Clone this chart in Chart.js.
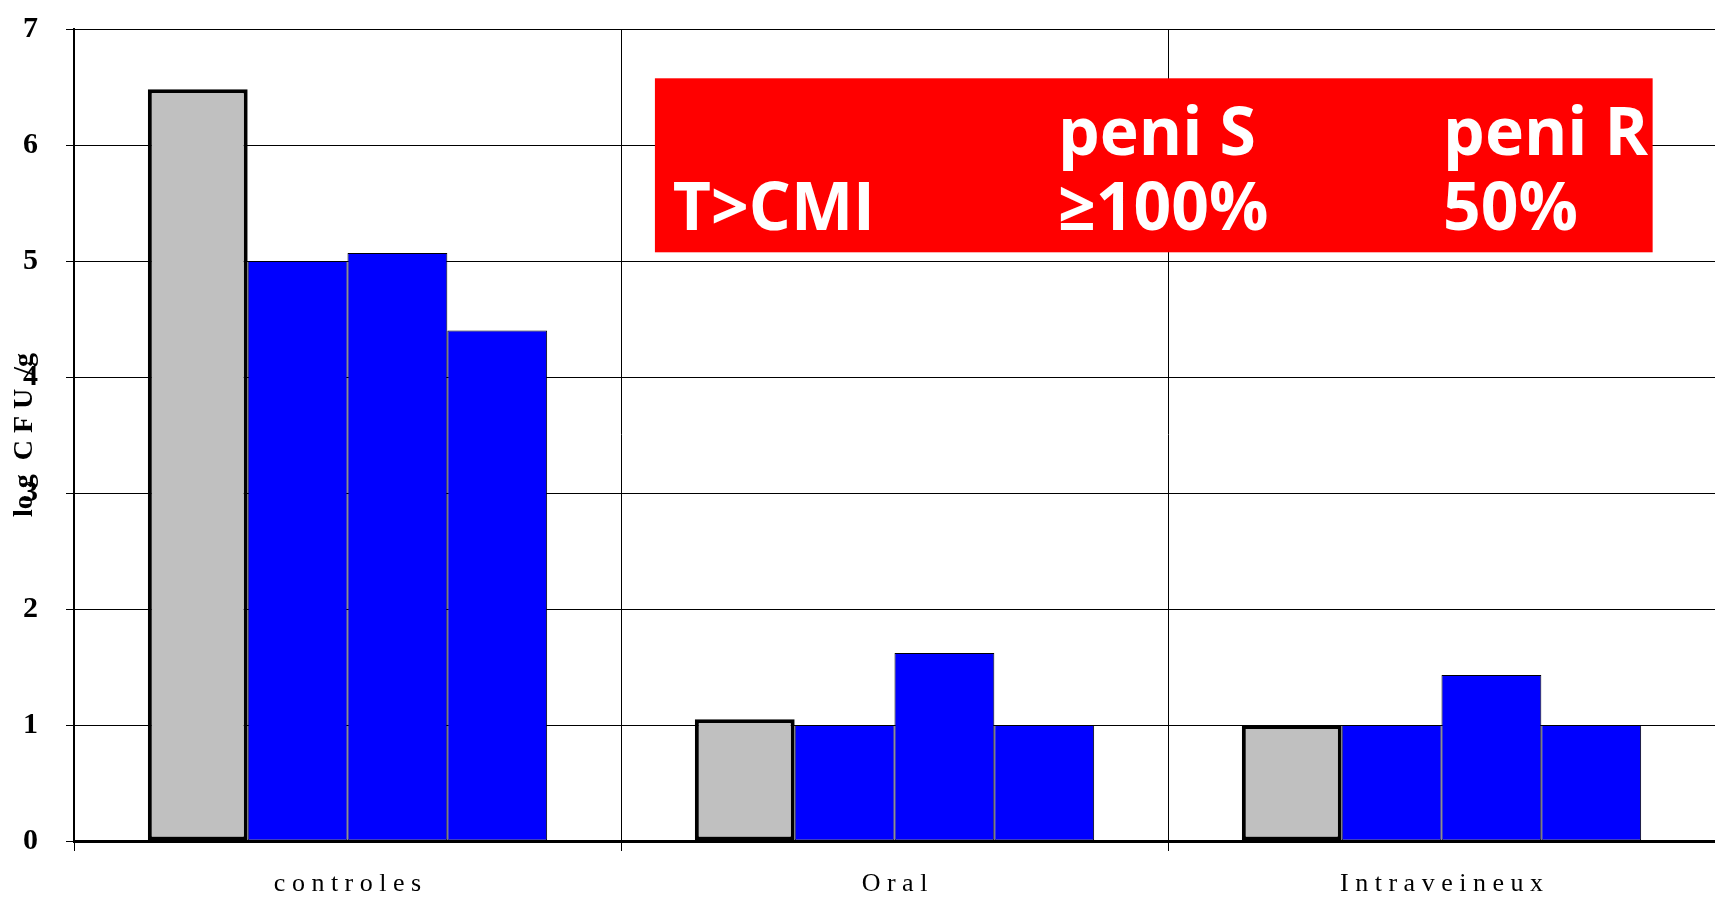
<!DOCTYPE html>
<html>
<head>
<meta charset="utf-8">
<script src="https://cdn.jsdelivr.net/npm/chart.js@4.4.1/dist/chart.umd.min.js"></script>
<style>
  html, body { margin: 0; padding: 0; background: #fff; }
  canvas { display: block; }
</style>
</head>
<body>
<canvas id="chart" width="1715" height="903"></canvas>
<script>
const categories = ["c o n t r o l e s", "O r a l", "I n t r a v e i n e u x"];
const temoin = [6.48, 1.05, 1.0];
const serie1 = [5.0, 1.0, 1.0];
const serie2 = [5.07, 1.62, 1.43];
const serie3 = [4.4, 1.0, 1.0];
const yTicks = [0, 1, 2, 3, 4, 5, 6, 7];

const boxRows = [
  ["", "peni S", "peni R"],
  ["T>CMI", "\u2265100%", "50%"],
];

// red box drawn over the grid, placed in data units
const boxArea = { x0: 0.562, x1: 2.386, yTop: 6.575, yBottom: 5.075 };
const boxCols = [0.018, 0.404, 0.79];
const boxBaselines = [0.44, 0.87];

const boxPlugin = {
  id: "cmiBox",
  afterDatasetsDraw(chart) {
    const { ctx, scales: { x, y } } = chart;
    const left = x.getPixelForValue(boxArea.x0);
    const right = x.getPixelForValue(boxArea.x1);
    const top = y.getPixelForValue(boxArea.yTop);
    const bottom = y.getPixelForValue(boxArea.yBottom);
    const w = right - left, h = bottom - top;
    ctx.save();
    ctx.fillStyle = "#ff0000";
    ctx.fillRect(left, top, w, h);
    ctx.fillStyle = "#ffffff";
    ctx.font = 'bold 66px "Open Sans", sans-serif';
    ctx.textBaseline = "alphabetic";
    boxRows.forEach((row, r) => {
      row.forEach((txt, c) => {
        if (txt) ctx.fillText(txt, left + boxCols[c] * w, top + boxBaselines[r] * h);
      });
    });
    ctx.restore();
  },
};

new Chart(document.getElementById("chart"), {
  type: "bar",
  data: {
    labels: categories,
    datasets: [
      { label: "témoin", data: temoin, backgroundColor: "#c0c0c0", borderColor: "#000", borderWidth: 4, borderSkipped: false },
      { label: "1", data: serie1, backgroundColor: "#0000ff", borderColor: "#000", borderWidth: 1, borderSkipped: false },
      { label: "2", data: serie2, backgroundColor: "#0000ff", borderColor: "#000", borderWidth: 1, borderSkipped: false },
      { label: "3", data: serie3, backgroundColor: "#0000ff", borderColor: "#000", borderWidth: 1, borderSkipped: false },
    ],
  },
  options: {
    responsive: false,
    animation: false,
    devicePixelRatio: 1,
    layout: { padding: { top: 29, right: 0, bottom: 0, left: 0 } },
    datasets: { bar: { categoryPercentage: 0.73, barPercentage: 1.0 } },
    plugins: { legend: { display: false }, tooltip: { enabled: false } },
    scales: {
      x: {
        grid: { offset: true, color: "#000", lineWidth: 1, tickLength: 10 },
        border: { color: "#000", width: 3 },
        ticks: {
          color: "#000",
          padding: 18,
          font: { family: '"Liberation Serif", serif', size: 26 },
        },
        afterFit(scale) {
          scale.height = 62;
          scale.paddingTop = 0;
          scale.paddingBottom = 0;
        },
      },
      y: {
        min: 0,
        max: 7,
        afterBuildTicks(scale) { scale.ticks = yTicks.map(v => ({ value: v })); },
        grid: { color: "#000", lineWidth: 1, tickLength: 8 },
        border: { color: "#000", width: 2 },
        ticks: {
          color: "#000",
          padding: 28,
          font: { family: '"Liberation Serif", serif', size: 30, weight: "bold" },
        },
        title: {
          display: true,
          text: "lo g  C F U  /g",
          color: "#000",
          padding: { top: 8, bottom: 0 },
          font: { family: '"Liberation Serif", serif', size: 28, weight: "bold" },
        },
        afterFit(scale) {
          scale.width = 74;
          scale.paddingTop = 0;
          scale.paddingBottom = 0;
        },
      },
    },
  },
  plugins: [boxPlugin],
});
</script>
</body>
</html>
